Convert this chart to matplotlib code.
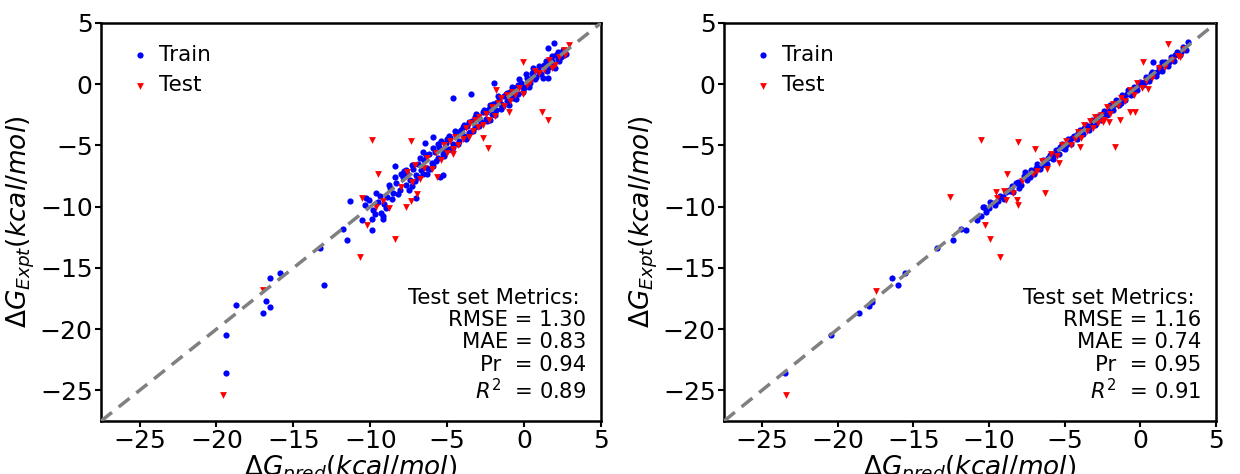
import matplotlib
matplotlib.use('Agg')
import matplotlib.pyplot as plt
import numpy as np

# -- Left panel data --
left_train = np.array([
    (-19.4, -20.5), (-19.4, -23.6), (-18.75, -18.0), (-17.0, -18.7), (-16.8, -17.7),
    (-16.5, -18.2), (-16.5, -15.8), (-15.9, -15.4), (-13.3, -13.4), (-13.0, -16.4),
    (-11.75, -11.85), (-11.5, -12.7), (-11.3, -9.5), (-10.56, -11.1), (-9.9, -11.9),
    (-9.86, -11.0), (-9.2, -11.0), (-10.34, -9.9), (-10.06, -9.45), (-7.0, -9.3),
    (-3.45, -0.8), (-4.64, -1.1), (-1.93, 0.13), (1.53, 2.93), (1.97, 3.4),
    (1.58, 0.54), (-5.3, -7.4), (-5.47, -7.55), (-8.37, -6.65), (-5.9, -4.28),
    (-6.44, -4.83),
    (-9.8, -10.3), (-9.5, -9.6), (-9.3, -10.5), (-9.1, -9.8), (-8.9, -9.2),
    (-8.7, -8.5), (-8.5, -8.9), (-8.3, -8.1), (-8.1, -8.6), (-7.9, -7.6),
    (-7.7, -8.2), (-7.6, -7.3), (-7.4, -7.8), (-7.2, -6.9), (-7.0, -7.4),
    (-6.9, -6.5), (-6.7, -7.0), (-6.5, -6.2), (-6.3, -6.8), (-6.2, -5.7),
    (-6.0, -6.4), (-5.8, -5.5), (-5.6, -6.0), (-5.5, -5.1), (-5.3, -5.7),
    (-5.1, -4.8), (-4.9, -5.3), (-4.8, -4.4), (-4.6, -4.9), (-4.4, -4.1),
    (-4.2, -4.6), (-4.1, -3.7), (-3.9, -4.2), (-3.7, -3.4), (-3.5, -3.9),
    (-3.4, -3.0), (-3.2, -3.5), (-3.0, -2.6), (-2.8, -3.1), (-2.7, -2.3),
    (-2.5, -2.8), (-2.3, -2.0), (-2.1, -2.4), (-2.0, -1.6), (-1.8, -2.1),
    (-1.6, -1.3), (-1.4, -1.8), (-1.3, -1.0), (-1.1, -1.4), (-0.9, -0.6),
    (-0.7, -1.1), (-0.6, -0.3), (-0.4, -0.8), (-0.2, 0.1), (0.0, -0.3),
    (0.2, 0.5), (0.4, 0.1), (0.5, 0.9), (0.7, 0.4), (0.9, 1.2),
    (1.1, 0.8), (1.3, 1.6), (1.5, 1.1), (1.7, 2.0), (1.9, 1.6),
    (2.1, 2.4), (2.3, 1.9), (2.5, 2.8), (2.7, 2.5),
    (-10.3, -9.3), (-9.7, -10.6), (-9.4, -9.1), (-9.0, -10.1), (-8.6, -9.4),
    (-8.4, -7.6), (-8.2, -9.0), (-7.8, -7.1), (-7.5, -8.6), (-7.3, -6.6),
    (-7.1, -7.9), (-6.8, -6.0), (-6.6, -7.3), (-6.4, -5.8), (-6.1, -6.9),
    (-5.9, -5.2), (-5.7, -6.3), (-5.4, -4.6), (-5.2, -5.9), (-5.0, -4.5),
    (-4.7, -5.4), (-4.5, -3.8), (-4.3, -4.9), (-4.0, -3.5), (-3.8, -4.5),
    (-3.6, -3.1), (-3.3, -3.8), (-3.1, -2.4), (-2.9, -3.4), (-2.6, -2.1),
    (-2.4, -3.0), (-2.2, -1.7), (-1.9, -2.5), (-1.7, -1.0), (-1.5, -2.0),
    (-1.2, -0.8), (-1.0, -1.7), (-0.8, -0.2), (-0.5, -1.2), (-0.3, 0.4),
    (-0.1, -0.6), (0.1, 0.8), (0.3, -0.2), (0.6, 1.3), (0.8, 0.6),
    (1.0, 1.5), (1.2, 0.5), (1.4, 1.9), (1.6, 1.4), (1.8, 2.3),
    (2.0, 1.3), (2.2, 2.6), (2.4, 2.2), (2.6, 2.4),
    (-9.6, -8.9), (-9.2, -10.8), (-8.8, -8.2), (-8.0, -7.3), (-7.7, -7.0),
    (-7.3, -8.3), (-6.9, -7.6), (-6.6, -5.5), (-6.3, -7.3), (-5.9, -6.7),
    (-5.6, -4.9), (-5.2, -5.3), (-4.9, -4.2), (-4.6, -5.1), (-4.2, -3.9),
    (-3.9, -3.3), (-3.6, -4.0), (-3.2, -2.7), (-2.9, -2.8), (-2.5, -2.3),
    (-2.2, -2.9), (-1.8, -1.5), (-1.5, -1.6), (-1.1, -0.7), (-0.8, -1.0),
    (-0.4, -0.1), (-0.1, -0.2), (0.3, 0.4), (0.6, 0.7), (1.0, 1.0),
    (1.4, 1.3), (1.8, 1.9), (2.2, 2.1), (2.5, 2.6),
])

left_test = np.array([
    (-19.6, -25.4), (-17.0, -16.8), (-10.7, -14.1), (-8.4, -12.6), (-9.86, -4.55),
    (-9.47, -7.33), (-7.35, -4.6), (1.14, -2.3), (1.58, -2.92), (-0.09, 1.82),
    (-2.37, -5.18), (-10.23, -11.5), (-10.56, -9.26), (-7.67, -10.0), (-6.98, -9.0),
    (-7.35, -9.5), (-5.68, -7.55), (-4.6, -5.7), (-2.65, -4.4), (-1.83, -0.47),
    (-0.96, -2.24), (2.66, 2.39), (2.92, 3.2), (1.8, 1.3),
    (-9.6, -10.0), (-9.2, -9.5), (-8.8, -10.1), (-8.0, -8.4), (-7.6, -7.2),
    (-7.3, -8.0), (-7.1, -6.6), (-6.8, -7.7), (-6.5, -6.8), (-6.3, -6.0),
    (-6.0, -6.9), (-5.7, -5.6), (-5.4, -6.2), (-5.2, -5.0), (-5.0, -5.6),
    (-4.8, -4.6), (-4.6, -5.3), (-4.5, -4.3), (-4.3, -5.0), (-4.0, -4.5),
    (-3.8, -3.6), (-3.6, -4.3), (-3.5, -3.2), (-3.3, -3.8), (-3.2, -2.9),
    (-3.0, -3.5), (-2.9, -2.7), (-2.7, -3.3), (-2.5, -2.4), (-2.3, -2.9),
    (-2.1, -1.9), (-1.9, -2.6), (-1.7, -1.5), (-1.5, -1.1), (-1.3, -1.8),
    (-1.1, -0.9), (-0.9, -1.4), (-0.8, -0.6), (-0.6, -0.9), (-0.3, -0.3),
    (-0.1, -0.8), (0.2, -0.1), (0.4, 0.2), (0.7, 1.1), (1.0, 0.9),
    (1.3, 1.2), (1.6, 2.0), (2.0, 1.6), (2.3, 2.2), (2.6, 2.8),
])

# -- Right panel data --
right_train = np.array([
    (-23.47, -23.6), (-20.45, -20.5), (-18.56, -18.7), (-17.9, -18.1), (-17.7, -17.75),
    (-16.38, -15.8), (-15.98, -16.4), (-15.57, -15.4), (-13.45, -13.4), (-12.35, -12.7),
    (-11.84, -11.85), (-11.54, -11.9), (-10.8, -11.1), (-10.5, -10.8), (-10.4, -10.0),
    (0.86, 1.8), (1.4, 1.8), (3.17, 3.48),
    (-10.2, -10.4), (-9.9, -9.6), (-9.6, -9.9), (-9.3, -9.1), (-9.0, -9.4),
    (-8.7, -8.6), (-8.4, -8.8), (-8.2, -8.1), (-7.9, -8.2), (-7.7, -7.5),
    (-7.5, -7.8), (-7.2, -7.0), (-7.0, -7.3), (-6.8, -6.5), (-6.6, -6.9),
    (-6.4, -6.2), (-6.2, -6.5), (-6.0, -5.8), (-5.8, -6.1), (-5.6, -5.4),
    (-5.4, -5.7), (-5.2, -4.9), (-5.0, -5.3), (-4.8, -4.5), (-4.6, -4.9),
    (-4.4, -4.2), (-4.2, -4.5), (-4.0, -3.7), (-3.8, -4.1), (-3.6, -3.3),
    (-3.4, -3.7), (-3.2, -2.9), (-3.0, -3.3), (-2.8, -2.6), (-2.6, -2.9),
    (-2.4, -2.2), (-2.2, -2.5), (-2.0, -1.7), (-1.8, -2.1), (-1.6, -1.3),
    (-1.4, -1.7), (-1.2, -0.9), (-1.0, -1.3), (-0.8, -0.5), (-0.6, -0.9),
    (-0.4, -0.2), (-0.2, -0.5), (0.0, 0.2), (0.2, -0.1), (0.4, 0.6),
    (0.6, 0.3), (0.8, 1.0), (1.0, 0.7), (1.2, 1.4), (1.4, 1.1),
    (1.6, 1.8), (1.8, 1.5), (2.0, 2.2), (2.2, 1.9), (2.4, 2.6),
    (2.6, 2.4), (2.8, 3.0), (3.0, 2.8),
    (-10.0, -10.1), (-9.4, -9.5), (-8.9, -8.8), (-8.5, -8.3), (-8.0, -8.5),
    (-7.6, -7.2), (-7.3, -7.6), (-6.9, -6.8), (-6.5, -6.6), (-6.1, -6.0),
    (-5.7, -5.8), (-5.3, -5.1), (-4.9, -5.0), (-4.5, -4.4), (-4.1, -4.0),
    (-3.7, -3.6), (-3.3, -3.4), (-2.9, -2.8), (-2.5, -2.4), (-2.1, -2.2),
    (-1.7, -1.6), (-1.3, -1.5), (-0.9, -0.8), (-0.5, -0.6), (-0.1, 0.0),
    (0.3, 0.2), (0.7, 0.8), (1.1, 1.0), (1.5, 1.6), (1.9, 1.8),
    (2.3, 2.4), (2.7, 2.6),
    (-10.3, -10.0), (-9.7, -9.7), (-9.1, -9.2), (-8.6, -8.7), (-8.1, -8.0),
    (-7.4, -7.4), (-6.7, -6.7), (-6.3, -6.4), (-5.9, -5.9), (-5.5, -5.6),
    (-5.1, -5.2), (-4.7, -4.6), (-4.3, -4.3), (-3.9, -3.9), (-3.5, -3.5),
    (-3.1, -3.1), (-2.7, -2.7), (-2.3, -2.3), (-1.9, -1.9), (-1.5, -1.4),
    (-1.1, -1.1), (-0.7, -0.7), (-0.3, -0.3), (0.1, 0.1), (0.5, 0.5),
    (0.9, 0.9), (1.3, 1.2), (1.7, 1.7), (2.1, 2.1), (2.5, 2.5), (2.9, 2.9),
])

right_test = np.array([
    (-23.43, -25.4), (-17.48, -16.9), (-12.6, -9.2), (-10.5, -4.55), (-8.06, -4.7),
    (-8.8, -7.33), (-10.26, -11.5), (-9.93, -12.6), (-9.3, -14.1), (-8.17, -9.45),
    (-8.06, -9.9), (-6.96, -5.3), (-6.3, -8.9), (-5.4, -6.46), (-1.67, -5.15),
    (-0.68, -2.24), (-0.35, -2.24), (-1.34, -2.9), (1.85, 3.26), (0.2, 1.84),
    (2.6, 2.25), (0.53, -0.4), (-9.53, -8.8), (-8.87, -9.45), (-2.44, -3.06),
    (-2.05, -3.06), (-4.0, -5.1),
    (-9.5, -9.3), (-9.0, -8.7), (-8.4, -8.9), (-7.8, -7.9), (-7.1, -7.3),
    (-6.8, -7.1), (-6.5, -6.3), (-6.2, -6.9), (-5.9, -5.7), (-5.5, -5.9),
    (-5.2, -5.0), (-4.9, -4.6), (-4.6, -5.0), (-4.3, -4.5), (-4.1, -3.9),
    (-3.9, -4.4), (-3.7, -3.3), (-3.5, -3.8), (-3.3, -3.0), (-3.1, -3.6),
    (-3.0, -2.7), (-2.8, -3.2), (-2.6, -2.5), (-2.4, -2.9), (-2.2, -1.9),
    (-2.0, -2.4), (-1.8, -1.6), (-1.5, -1.8), (-1.3, -1.1), (-1.0, -1.4),
    (-0.7, -0.5), (-0.4, -0.9), (-0.2, 0.1), (0.1, -0.3), (0.4, 0.3),
    (0.8, 0.5), (1.2, 1.3), (1.6, 1.4), (2.1, 2.0), (2.5, 2.3), (2.9, 2.9),
])

left_metrics = ['1.30', '0.83', '0.94', '0.89']
right_metrics = ['1.16', '0.74', '0.95', '0.91']

LIMITS = (-27.5, 5)
TICKS = [-25, -20, -15, -10, -5, 0, 5]

fig = plt.figure(figsize=(12.4, 4.74), dpi=100)
ax1 = fig.add_axes([0.0815, 0.1118, 0.4032, 0.8397])
ax2 = fig.add_axes([0.5839, 0.1118, 0.3968, 0.8397])

panels = [(ax1, left_train, left_test, left_metrics),
          (ax2, right_train, right_test, right_metrics)]

for ax, train, test, metrics in panels:
    ax.scatter(train[:, 0], train[:, 1], s=20, c='blue', marker='o',
               linewidths=0, label='Train', zorder=2)
    ax.scatter(test[:, 0], test[:, 1], s=24, c='red', marker='v',
               linewidths=0, label='Test', zorder=2)
    ax.plot(LIMITS, LIMITS, color='gray', linestyle='--', linewidth=2.5,
            dashes=(4, 2.5), zorder=3)
    ax.set_xlim(LIMITS)
    ax.set_ylim(LIMITS)
    ax.set_xticks(TICKS)
    ax.set_yticks(TICKS)
    ax.tick_params(labelsize=18, width=1.5, length=4.5, pad=1.5)
    for spine in ax.spines.values():
        spine.set_linewidth(1.8)
    ax.set_xlabel(r'$\Delta G_{pred}(kcal/mol)$', fontsize=19, labelpad=0)
    ax.set_ylabel(r'$\Delta G_{Expt}(kcal/mol)$', fontsize=19, labelpad=2)
    ax.legend(loc='upper left', frameon=False, fontsize=15.5,
              handletextpad=0.1, handlelength=1.6, borderaxespad=0.6)
    txt = ('Test set Metrics: \n'
           f'RMSE = {metrics[0]}\n'
           f'MAE = {metrics[1]}\n'
           f'Pr  = {metrics[2]}\n'
           f'$R^2$  = {metrics[3]}')
    ax.text(0.97, 0.045, txt, transform=ax.transAxes, ha='right', va='bottom',
            multialignment='right', fontsize=15.2, linespacing=1.15)

fig.savefig('out.png', dpi=100)
plt.close()
